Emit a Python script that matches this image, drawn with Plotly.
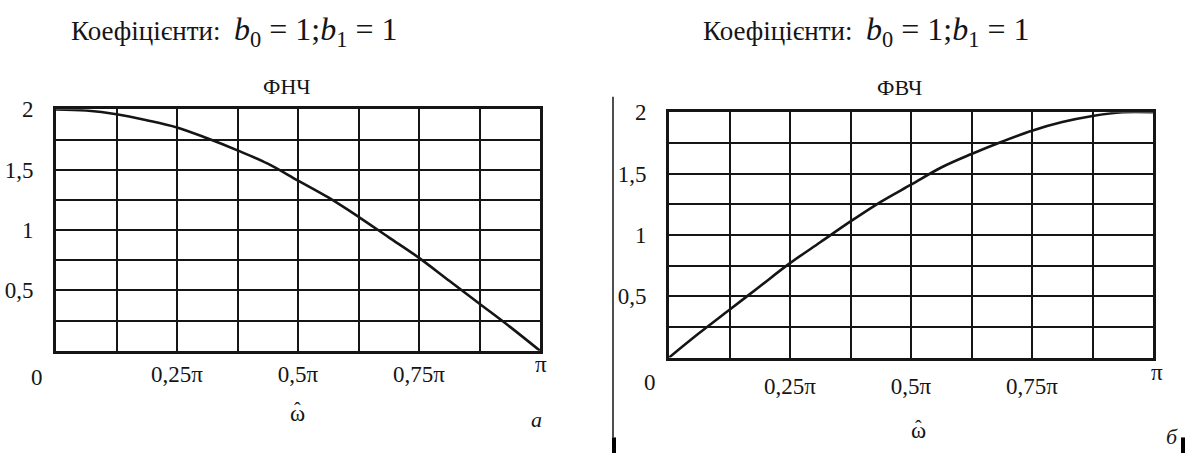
import plotly.graph_objects as go

# ---- data (frequency in units of pi) ----
omega = [0, 0.0625, 0.125, 0.1875, 0.25, 0.3125, 0.375, 0.4375, 0.5,
         0.5625, 0.625, 0.6875, 0.75, 0.8125, 0.875, 0.9375, 1.0]
lpf_amp = [2.0, 1.99, 1.96, 1.91, 1.85, 1.76, 1.66, 1.55, 1.41,
           1.27, 1.11, 0.94, 0.77, 0.58, 0.39, 0.2, 0.0]
hpf_amp = [0.0, 0.2, 0.39, 0.58, 0.77, 0.94, 1.11, 1.27, 1.41,
           1.55, 1.66, 1.76, 1.85, 1.92, 1.97, 2.0, 2.0]

grid_x = [0, 0.125, 0.25, 0.375, 0.5, 0.625, 0.75, 0.875, 1.0]
grid_x_text = ["", "", "0,25π", "", "0,5π", "", "0,75π", "", ""]
grid_y = [0, 0.25, 0.5, 0.75, 1.0, 1.25, 1.5, 1.75, 2.0]
grid_y_text = ["", "", "0,5", "", "1", "", "1,5", "", "2"]

panel_titles = ["ФНЧ", "ФВЧ"]
coef_title = ("Коефіцієнти:  <span style='font-size:32px'><i>b</i><sub>0</sub> = 1;"
              "<i>b</i><sub>1</sub> = 1</span>")

W, H = 1187, 453
FONT = "Liberation Serif"
INK = "#151515"


def px(x):
    return x / W


def py(y):
    return (H - y) / H


fig = go.Figure()
fig.add_trace(go.Scatter(x=omega, y=lpf_amp, mode="lines", xaxis="x", yaxis="y",
                         line=dict(color=INK, width=2.6, shape="spline"),
                         showlegend=False, hoverinfo="skip"))
fig.add_trace(go.Scatter(x=omega, y=hpf_amp, mode="lines", xaxis="x2", yaxis="y2",
                         line=dict(color=INK, width=2.6, shape="spline"),
                         showlegend=False, hoverinfo="skip"))

def xax(domain, anchor, standoff):
    return dict(domain=domain, anchor=anchor, range=[0, 1], tickmode="array",
                tickvals=grid_x, ticktext=grid_x_text, showgrid=True,
                gridcolor=INK, gridwidth=1.7, zeroline=False, showline=True,
                mirror=True, linecolor=INK, linewidth=2.6, ticks="",
                ticklabelstandoff=standoff, fixedrange=True,
                tickfont=dict(family=FONT, size=23, color=INK))


def yax(domain, anchor):
    return dict(domain=domain, anchor=anchor, range=[0, 2], tickmode="array",
                tickvals=grid_y, ticktext=grid_y_text, showgrid=True,
                gridcolor=INK, gridwidth=1.7, zeroline=False, showline=True,
                mirror=True, linecolor=INK, linewidth=2.6, ticks="",
                ticklabelstandoff=15, fixedrange=True,
                tickfont=dict(family=FONT, size=23, color=INK))


fig.update_layout(
    width=W, height=H, autosize=False,
    margin=dict(l=0, r=0, t=0, b=0),
    font=dict(family=FONT, color=INK),
    paper_bgcolor="white", plot_bgcolor="white",
    xaxis=xax([px(56), px(540)], "y", 1),
    yaxis=yax([py(348), py(100)], "x"),
    xaxis2=xax([px(669), px(1153)], "y2", 6),
    yaxis2=yax([py(355), py(103)], "x2"),
)

ann = []
def add_text(text, x, y, size=23, italic=False):
    t = f"<i>{text}</i>" if italic else text
    ann.append(dict(text=t, x=px(x), y=py(y), xref="paper", yref="paper",
                    showarrow=False, xanchor="center", yanchor="middle",
                    font=dict(family=FONT, size=size, color=INK)))

# top coefficient titles
add_text(coef_title, 234, 20, size=27)
add_text(coef_title, 866, 20, size=27)
# panel titles
add_text(panel_titles[0], 287, 77, size=22)
add_text(panel_titles[1], 899, 78, size=22)
# edge tick labels
add_text("0", 37, 375)
add_text("π", 541, 362)
add_text("0", 650, 381)
add_text("π", 1157, 370)
# axis labels (omega with a hat)
add_text("ω", 298, 412)
add_text("ˆ", 298, 409, size=20)
add_text("ω", 918, 430)
add_text("ˆ", 918, 427, size=20)
add_text("а", 536, 419, size=22, italic=True)
add_text("б", 1172, 436, size=22, italic=True)
fig.update_layout(annotations=ann)

# separator line and bottom marks
fig.add_shape(type="line", xref="paper", yref="paper", x0=px(613), x1=px(613),
              y0=py(87), y1=py(437), line=dict(color=INK, width=1.5))
fig.add_shape(type="line", xref="paper", yref="paper", x0=px(614), x1=px(614),
              y0=py(437), y1=py(453), line=dict(color="black", width=4))
fig.add_shape(type="line", xref="paper", yref="paper", x0=px(1183), x1=px(1183),
              y0=py(437), y1=py(453), line=dict(color="black", width=4))

fig.write_html("out.html", config=dict(displayModeBar=False),
               post_script="document.body.style.margin='0';"
                           "document.body.style.overflow='hidden';")
